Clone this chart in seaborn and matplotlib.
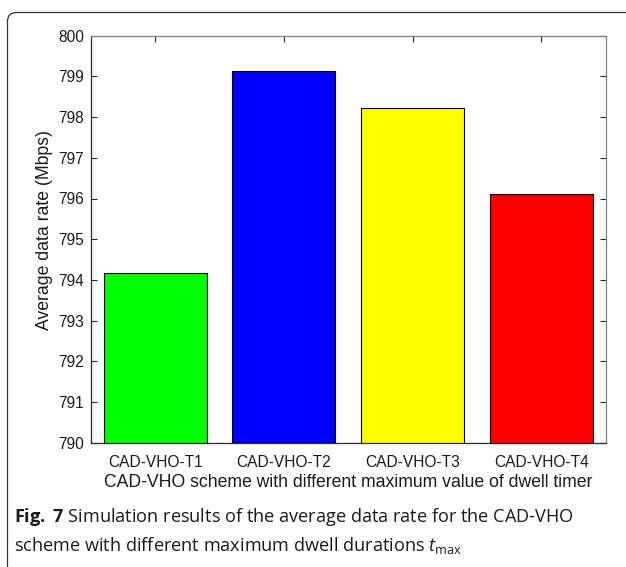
import matplotlib
matplotlib.use("Agg")
import matplotlib.pyplot as plt
from matplotlib.patches import FancyBboxPatch
from matplotlib.transforms import IdentityTransform
import seaborn as sns
import pandas as pd

# Data: average data rate per dwell-timer setting
schemes = ["CAD-VHO-T1", "CAD-VHO-T2", "CAD-VHO-T3", "CAD-VHO-T4"]
rates = [794.16, 799.13, 798.22, 796.10]
bar_colors = ["#00ff00", "#0000ff", "#ffff00", "#ff0000"]
y_ticks = [790, 791, 792, 793, 794, 795, 796, 797, 798, 799, 800]

sns.set_style("ticks")
plt.rcParams["font.family"] = ["Liberation Sans", "DejaVu Sans"]
plt.rcParams["mathtext.fontset"] = "custom"
plt.rcParams["mathtext.rm"] = "Open Sans"
plt.rcParams["mathtext.it"] = "Open Sans:italic"
plt.rcParams["mathtext.bf"] = "Open Sans:bold"

W, H, DPI = 626, 567, 100
fig = plt.figure(figsize=(W / DPI, H / DPI), dpi=DPI)
ax = fig.add_axes([91 / W, 1 - 442.7 / H, (605.5 - 91) / W, (442.7 - 35.7) / H])

df = pd.DataFrame({"scheme": schemes, "rate": rates})
sns.barplot(data=df, x="scheme", y="rate", hue="scheme", palette=bar_colors,
            legend=False, width=0.8, edgecolor="black", linewidth=0.8,
            saturation=1, ax=ax)

ax.set_ylim(790, 800)
ax.set_xlim(-0.5, 3.5)
ax.set_yticks(y_ticks)
ax.set_yticklabels([str(v) for v in y_ticks])

axis_dark = "#262626"
axis_light = "#808080"
for side in ["left", "bottom"]:
    ax.spines[side].set_color(axis_dark)
    ax.spines[side].set_linewidth(0.9)
for side in ["top", "right"]:
    ax.spines[side].set_visible(True)
    ax.spines[side].set_color(axis_light)
    ax.spines[side].set_linewidth(0.9)

ax.tick_params(axis="both", direction="in", length=4, width=0.8,
               top=True, right=True, labelsize=11.2, colors=axis_dark,
               labelcolor="#1a1a1a")
ax.tick_params(axis="y", pad=5)
ax.tick_params(axis="x", pad=9)

ax.set_xlabel("CAD-VHO scheme with different maximum value of dwell timer",
              fontsize=12.7, color="#1a1a1a", labelpad=3)
ax.set_ylabel("Average data rate (Mbps)", fontsize=12.7, color="#1a1a1a")
ax.yaxis.set_label_coords(-0.0733, 0.5226)

# Figure caption
fig.text(14 / W, 1 - 522 / H,
         r"$\mathbf{Fig.}$ $\mathbf{7}$ Simulation results of the average data rate for the CAD-VHO",
         fontsize=13.1, family="Open Sans", color="#1a1a1a", ha="left",
         va="baseline")
fig.text(14 / W, 1 - 551 / H,
         r"scheme with different maximum dwell durations $t_{\mathrm{max}}$",
         fontsize=13.1, family="Open Sans", color="#1a1a1a", ha="left",
         va="baseline")

# Rounded frame around the figure panel
frame = FancyBboxPatch((7.5, -30), 700, H - 12.5 + 30,
                       boxstyle="round,pad=0,rounding_size=9",
                       transform=IdentityTransform(), fill=False,
                       edgecolor="#333333", linewidth=0.9, clip_on=False)
fig.add_artist(frame)

fig.savefig("out.png", dpi=DPI)
